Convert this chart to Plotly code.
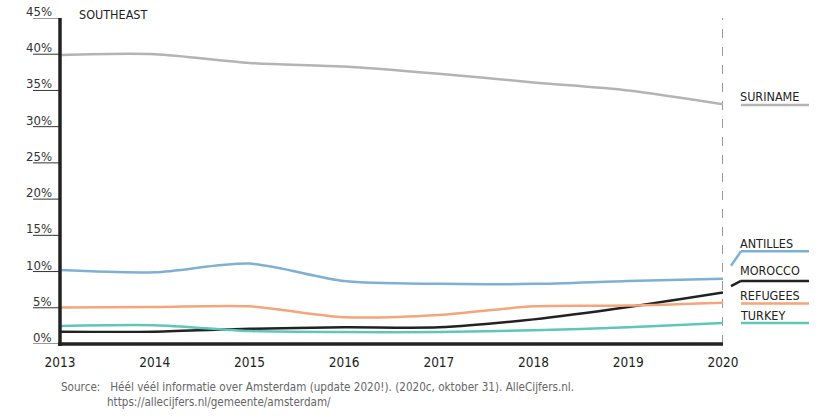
import plotly.graph_objects as go

years = [2013, 2014, 2015, 2016, 2017, 2018, 2019, 2020]
suriname = [39.9, 40.0, 38.8, 38.3, 37.3, 36.1, 35.0, 33.1]
antilles = [10.2, 9.9, 11.1, 8.7, 8.3, 8.3, 8.7, 9.0]
refugees = [5.05, 5.1, 5.2, 3.7, 4.0, 5.2, 5.3, 5.7]
morocco = [1.7, 1.7, 2.1, 2.3, 2.3, 3.4, 5.1, 7.1]
turkey = [2.5, 2.6, 1.8, 1.65, 1.65, 1.9, 2.3, 2.9]
y_ticks = [0, 5, 10, 15, 20, 25, 30, 35, 40, 45]
y_tick_labels = [f"{v}%" for v in y_ticks]

series = [
    ("SURINAME", suriname, "#b5b3b3"),
    ("ANTILLES", antilles, "#7eb0d5"),
    ("MOROCCO", morocco, "#222222"),
    ("REFUGEES", refugees, "#f5a57b"),
    ("TURKEY", turkey, "#5fc6b9"),
]
# label layout: (text y, underline y, connector start y or None)
label_pos = {
    "SURINAME": (34.2, 33.0, None),
    "ANTILLES": (13.9, 12.8, 10.8),
    "MOROCCO": (10.1, 8.7, 8.0),
    "REFUGEES": (6.7, 5.6, None),
    "TURKEY": (3.9, 2.9, None),
}

FONT = "DejaVu Sans Condensed, Roboto"
PW = 663.0
PH = 326.0
fig = go.Figure()
for name, vals, col in series:
    fig.add_trace(go.Scatter(x=years, y=vals, mode="lines", name=name,
                             line=dict(color=col, width=2.5, shape="spline", smoothing=0.8),
                             hoverinfo="skip"))

ann = []
shapes = []
for v, t in zip(y_ticks, y_tick_labels):
    ann.append(dict(xref="paper", yref="y", x=-6 / PW, y=v, text=t, showarrow=False,
                    xanchor="right", yanchor="bottom", yshift=-3,
                    font=dict(family=FONT, size=13, color="#333")))
    shapes.append(dict(type="line", xref="paper", yref="y", x0=-27 / PW, x1=0, y0=v, y1=v,
                       line=dict(color="#333", width=1)))
x0 = 681 / PW
x1 = 749 / PW
xc = 671 / PW
for name, vals, col in series:
    ty, uy, cy = label_pos[name]
    ann.append(dict(xref="paper", yref="y", x=678 / PW, y=ty, text=name, showarrow=False,
                    xanchor="left", yanchor="middle",
                    font=dict(family=FONT, size=12.5, color="#222")))
    shapes.append(dict(type="line", xref="paper", yref="y", x0=x0, x1=x1, y0=uy, y1=uy,
                       line=dict(color=col, width=2.5)))
    if cy is not None:
        shapes.append(dict(type="line", xref="paper", yref="y", x0=xc, x1=x0, y0=cy, y1=uy,
                           line=dict(color=col, width=2.5)))
# dashed marker at last year
shapes.append(dict(type="line", xref="x", yref="y", x0=2020, x1=2020, y0=0, y1=45,
                   line=dict(color="#333", width=1, dash="dash"), layer="below"))
# heavy axis lines
shapes.append(dict(type="line", xref="paper", yref="paper", x0=0, x1=0, y0=-2 / PH, y1=1,
                   line=dict(color="#222", width=3.5)))
shapes.append(dict(type="line", xref="paper", yref="paper", x0=-2 / PW, x1=1, y0=0, y1=0,
                   line=dict(color="#222", width=3.5)))

ann.append(dict(xref="paper", yref="paper", x=17 / PW, y=1, text="SOUTHEAST", showarrow=False,
                xanchor="left", yanchor="middle", yshift=4,
                font=dict(family=FONT, size=12.5, color="#222")))
ann.append(dict(xref="paper", yref="paper", x=-1 / PW, y=0, yshift=-43, showarrow=False,
                xanchor="left", yanchor="middle", align="left",
                text="Source:   Héél véél informatie over Amsterdam (update 2020!). (2020c, oktober 31). AlleCijfers.nl.",
                font=dict(family=FONT, size=11.6, color="#666")))
ann.append(dict(xref="paper", yref="paper", x=45 / PW, y=0, yshift=-58, showarrow=False,
                xanchor="left", yanchor="middle", align="left",
                text="https://allecijfers.nl/gemeente/amsterdam/",
                font=dict(family=FONT, size=11.6, color="#666")))

fig.update_layout(
    width=821, height=418, margin=dict(l=60, r=98, t=18, b=74),
    paper_bgcolor="white", plot_bgcolor="white", showlegend=False,
    annotations=ann, shapes=shapes, hovermode=False,
    xaxis=dict(range=[2013, 2020], tickvals=years, ticktext=[str(y) for y in years],
               showgrid=False, zeroline=False, showline=False,
               ticks="", ticklabelstandoff=8,
               tickfont=dict(family=FONT, size=13.5, color="#222"),
               fixedrange=True),
    yaxis=dict(range=[0, 45], tickvals=y_ticks, showticklabels=False, showgrid=False,
               zeroline=False, showline=False, ticks="", fixedrange=True),
)
fig.write_html("out.html", config={"displayModeBar": False},
               post_script="document.body.style.margin='0';document.body.style.overflow='hidden';")
